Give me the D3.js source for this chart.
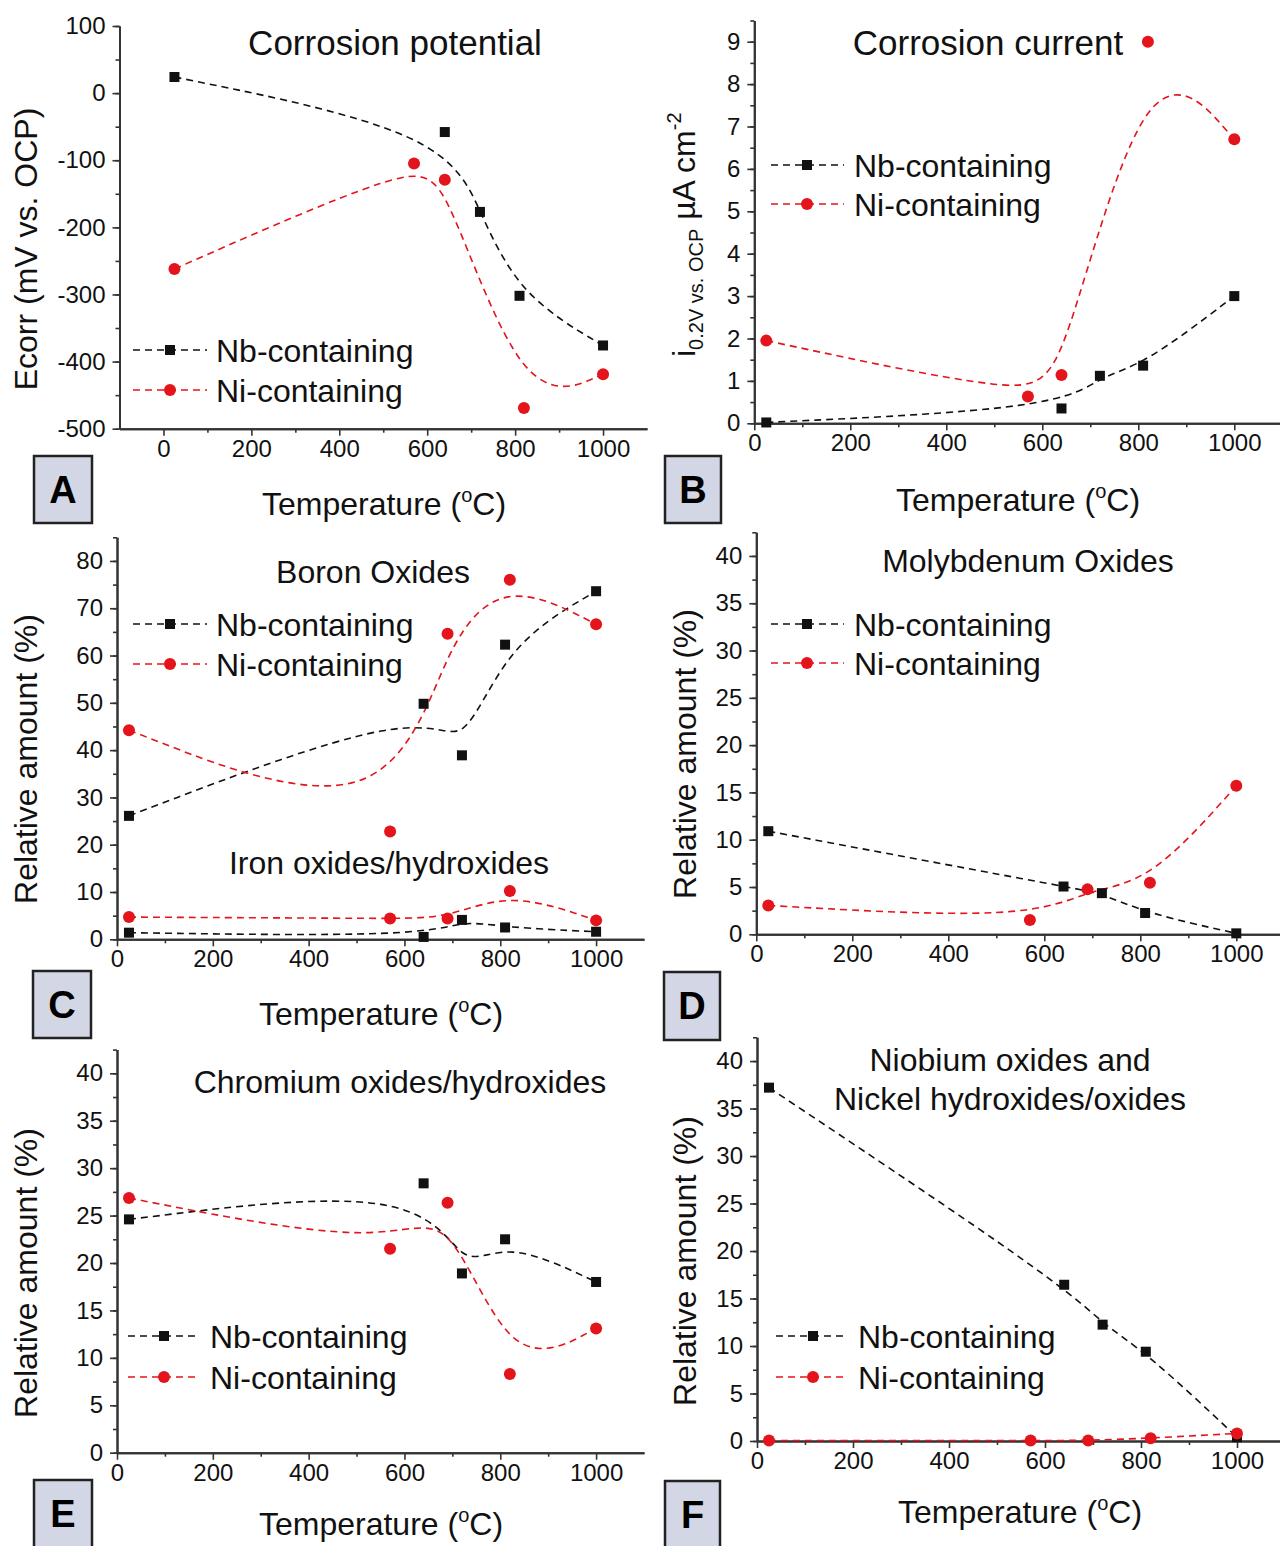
<!DOCTYPE html>
<html>
<head>
<meta charset="utf-8">
<script src="https://cdn.jsdelivr.net/npm/d3@7"></script>
<style>
    body { margin: 0; background: #fff; }
    svg { display: block; font-family: "Liberation Sans", Arial, sans-serif; }
</style>
</head>
<body>
<svg id="chart" width="1280" height="1546"></svg>
<script>
// temperatures (°C) of the samples
const tempNb = [25, 640, 720, 810, 1000];
const tempNiEchem = [25, 570, 640, 820, 1000];
const tempNiXps = [25, 570, 690, 820, 1000];

// A - corrosion potential (mV vs. OCP)
const ecorrNb = [24, -58, -177, -302, -376];
const ecorrNi = [-262, -105, -129, -469, -419];
// B - corrosion current (µA cm-2)
const currentNb = [0.02, 0.35, 1.12, 1.36, 3.0];
const currentNi = [1.95, 0.63, 1.14, 9.0, 6.7];
// C - boron oxides and iron oxides (%)
const boronNb = [26.1, 49.8, 38.9, 62.3, 73.6];
const boronNi = [44.2, 22.8, 64.6, 76.0, 66.6];
const ironNb = [1.4, 0.5, 4.1, 2.5, 1.6];
const ironNi = [4.7, 4.4, 4.4, 10.2, 4.0];
// D - molybdenum oxides (%)
const molyNb = [10.9, 5.05, 4.35, 2.25, 0.1];
const molyNi = [3.05, 1.5, 4.75, 5.45, 15.7];
// E - chromium oxides/hydroxides (%)
const chromNb = [24.6, 28.4, 18.9, 22.5, 18.0];
const chromNi = [26.85, 21.5, 26.35, 8.3, 13.1];
// F - niobium oxides / nickel hydroxides (%)
const niobNb = [37.2, 16.45, 12.25, 9.4, 0.4];
const niobNi = [0.05, 0.05, 0.05, 0.3, 0.8];

// tick labels
const xTicks = [0, 200, 400, 600, 800, 1000];
const ecorrTicks = [-500, -400, -300, -200, -100, 0, 100];
const currentTicks = [0, 1, 2, 3, 4, 5, 6, 7, 8, 9];
const boronTicks = [0, 10, 20, 30, 40, 50, 60, 70, 80];
const pctTicks = [0, 5, 10, 15, 20, 25, 30, 35, 40];

const black = "#111";
const red = "#e3141b";

const svg = d3.select("#chart");
svg.append("rect").attr("width", 1280).attr("height", 1546).attr("fill", "#fff");

const panels = [
    {
        id: "A", xDomain: [-100, 1100], yDomain: [-500, 100], yTicks: ecorrTicks, yMinor: 50,
        left: 119.5, right: 647, top: 26, bottom: 428.7,
        series: [[tempNb, ecorrNb, "nb"], [tempNiEchem, ecorrNi, "ni"]],
        titles: [["Corrosion potential", 395, 55, 35]],
        legend: { x1: 133, x2: 207, mx: 170, tx: 216, y: [350, 390] },
        yLabel: { text: "Ecorr (mV vs. OCP)", x: 37, y: 249 },
        xLabel: { x: 384, y: 515 },
        box: { x: 34, y: 456, w: 58, h: 67 }
    },
    {
        id: "B", xDomain: [0, 1100], yDomain: [0, 9.5], yTicks: currentTicks, yMinor: 0.5,
        left: 754.3, right: 1282.3, top: 20.5, bottom: 423.3,
        series: [[tempNb, currentNb, "nb"], [tempNiEchem, currentNi, "ni"]],
        titles: [["Corrosion current", 988, 55, 35]],
        legend: { x1: 771, x2: 844, mx: 807, tx: 854, y: [165, 204] },
        yLabel: null,
        xLabel: { x: 1018, y: 511 },
        box: { x: 665, y: 456, w: 56, h: 67 }
    },
    {
        id: "C", xDomain: [0, 1100], yDomain: [0, 85], yTicks: boronTicks, yMinor: 5,
        left: 117, right: 644, top: 537.3, bottom: 939.3,
        series: [[tempNb, boronNb, "nb"], [tempNiXps, boronNi, "ni"],
                 [tempNb, ironNb, "nb"], [tempNiXps, ironNi, "ni"]],
        titles: [["Boron Oxides", 373, 583, 32], ["Iron oxides/hydroxides", 389, 874, 32]],
        legend: { x1: 133, x2: 207, mx: 170, tx: 216, y: [624, 664] },
        yLabel: { text: "Relative amount (%)", x: 37, y: 759 },
        xLabel: { x: 381, y: 1025 },
        box: { x: 33, y: 971, w: 58, h: 67 }
    },
    {
        id: "D", xDomain: [0, 1100], yDomain: [0, 42.5], yTicks: pctTicks, yMinor: 2.5,
        left: 756.3, right: 1284.3, top: 532.3, bottom: 934.3,
        series: [[tempNb, molyNb, "nb"], [tempNiXps, molyNi, "ni"]],
        titles: [["Molybdenum Oxides", 1028, 572, 32]],
        legend: { x1: 771, x2: 844, mx: 807, tx: 854, y: [624, 663] },
        yLabel: { text: "Relative amount (%)", x: 696, y: 754 },
        xLabel: null,
        box: { x: 664, y: 972, w: 56, h: 68 }
    },
    {
        id: "E", xDomain: [0, 1100], yDomain: [0, 42.5], yTicks: pctTicks, yMinor: 2.5,
        left: 117, right: 644, top: 1049.6, bottom: 1452.7,
        series: [[tempNb, chromNb, "nb"], [tempNiXps, chromNi, "ni"]],
        titles: [["Chromium oxides/hydroxides", 400, 1093, 32]],
        legend: { x1: 128, x2: 200, mx: 164, tx: 210, y: [1336, 1377] },
        yLabel: { text: "Relative amount (%)", x: 37, y: 1273 },
        xLabel: { x: 381, y: 1535 },
        box: { x: 34, y: 1480, w: 58, h: 72 }
    },
    {
        id: "F", xDomain: [0, 1100], yDomain: [0, 42.5], yTicks: pctTicks, yMinor: 2.5,
        left: 757, right: 1285, top: 1037.3, bottom: 1441,
        series: [[tempNb, niobNb, "nb"], [tempNiXps, niobNi, "ni"]],
        titles: [["Niobium oxides and", 1010, 1071, 32], ["Nickel hydroxides/oxides", 1010, 1110, 32]],
        legend: { x1: 776, x2: 848, mx: 813, tx: 858, y: [1336, 1377] },
        yLabel: { text: "Relative amount (%)", x: 696, y: 1261 },
        xLabel: { x: 1020, y: 1523 },
        box: { x: 665, y: 1481, w: 55, h: 72 }
    }
];

function marker(g, kind, cx, cy) {
    if (kind === "nb") {
        g.append("rect")
            .attr("x", cx - 5).attr("y", cy - 5)
            .attr("width", 10).attr("height", 10)
            .attr("fill", black);
    } else {
        g.append("circle")
            .attr("cx", cx).attr("cy", cy).attr("r", 6)
            .attr("fill", red);
    }
}

function styleAxis(g) {
    g.selectAll(".domain").attr("stroke", "#333").attr("stroke-width", 2);
    g.selectAll(".tick line").attr("stroke", "#333").attr("stroke-width", 1.6);
    g.selectAll(".tick text").attr("fill", "#111").attr("font-family", "Liberation Sans, Arial, sans-serif");
}

function drawPanel(p) {
    const x = d3.scaleLinear().domain(p.xDomain).range([p.left, p.right]);
    const y = d3.scaleLinear().domain(p.yDomain).range([p.bottom, p.top]);
    const g = svg.append("g").attr("id", "panel_" + p.id);

    // minor ticks first
    const minorX = d3.range(100, 1000, 200);
    const minorY = d3.range(p.yDomain[0], p.yDomain[1] + 1e-6, p.yMinor);
    g.append("g")
        .attr("transform", `translate(0,${p.bottom})`)
        .call(d3.axisBottom(x).tickValues(minorX).tickSize(4).tickSizeOuter(0).tickFormat(""))
        .call(styleAxis);
    g.append("g")
        .attr("transform", `translate(${p.left},0)`)
        .call(d3.axisLeft(y).tickValues(minorY).tickSize(4).tickSizeOuter(0).tickFormat(""))
        .call(styleAxis);

    // major ticks with labels
    g.append("g")
        .attr("transform", `translate(0,${p.bottom})`)
        .call(d3.axisBottom(x).tickValues(xTicks).tickSize(7).tickSizeOuter(0).tickPadding(4).tickFormat(d => String(d)))
        .call(styleAxis)
        .selectAll(".tick text").attr("font-size", 24);
    g.append("g")
        .attr("transform", `translate(${p.left},0)`)
        .call(d3.axisLeft(y).tickValues(p.yTicks).tickSize(7).tickSizeOuter(0).tickPadding(7).tickFormat(d => String(d)))
        .call(styleAxis)
        .selectAll(".tick text").attr("font-size", 24);

    // smoothed dashed curves (B-spline), then markers
    const line = d3.line()
        .x(d => x(d[0]))
        .y(d => y(d[1]))
        .curve(d3.curveBasis);

    p.series.forEach(s => {
        const pts = s[0].map((t, i) => [t, s[1][i]]);
        g.append("path")
            .attr("d", line(pts))
            .attr("fill", "none")
            .attr("stroke", s[2] === "nb" ? black : red)
            .attr("stroke-width", 1.6)
            .attr("stroke-dasharray", "7,5");
    });
    ["nb", "ni"].forEach(kind => {
        p.series.filter(s => s[2] === kind).forEach(s => {
            s[0].forEach((t, i) => marker(g, kind, x(t), y(s[1][i])));
        });
    });

    // titles
    p.titles.forEach(t => {
        g.append("text")
            .attr("x", t[1]).attr("y", t[2])
            .attr("text-anchor", "middle")
            .attr("font-size", t[3])
            .attr("fill", "#111")
            .text(t[0]);
    });

    // legend
    const lg = p.legend;
    [["nb", "Nb-containing"], ["ni", "Ni-containing"]].forEach((row, i) => {
        const ly = lg.y[i];
        g.append("line")
            .attr("x1", lg.x1).attr("x2", lg.x2)
            .attr("y1", ly).attr("y2", ly)
            .attr("stroke", row[0] === "nb" ? black : red)
            .attr("stroke-width", 1.6)
            .attr("stroke-dasharray", "7,5");
        marker(g, row[0], lg.mx, ly);
        g.append("text")
            .attr("x", lg.tx).attr("y", ly + 11.5)
            .attr("font-size", 32)
            .attr("fill", "#111")
            .text(row[1]);
    });

    // y axis label
    if (p.yLabel) {
        g.append("text")
            .attr("transform", `translate(${p.yLabel.x},${p.yLabel.y}) rotate(-90)`)
            .attr("text-anchor", "middle")
            .attr("font-size", 32)
            .attr("fill", "#111")
            .text(p.yLabel.text);
    }

    // x axis label with superscript o
    if (p.xLabel) {
        const t = g.append("text")
            .attr("x", p.xLabel.x).attr("y", p.xLabel.y)
            .attr("text-anchor", "middle")
            .attr("font-size", 32)
            .attr("fill", "#111");
        t.append("tspan").text("Temperature (");
        t.append("tspan").attr("font-size", 20).attr("dy", -13).text("o");
        t.append("tspan").attr("dy", 13).text("C)");
    }

    // panel letter box
    g.append("rect")
        .attr("x", p.box.x).attr("y", p.box.y)
        .attr("width", p.box.w).attr("height", p.box.h)
        .attr("fill", "#d3d6e4")
        .attr("stroke", "#222")
        .attr("stroke-width", 2.5);
    g.append("text")
        .attr("x", p.box.x + p.box.w / 2).attr("y", p.box.y + 47)
        .attr("text-anchor", "middle")
        .attr("font-size", 38)
        .attr("font-weight", "bold")
        .attr("fill", "#000")
        .text(p.id);
}

panels.forEach(drawPanel);

// B: current axis label with sub- and superscript
const bl = svg.append("text")
    .attr("transform", "translate(695,357) rotate(-90)")
    .attr("font-size", 32)
    .attr("fill", "#111");
bl.append("tspan").text("i");
bl.append("tspan").attr("font-size", 20).attr("dy", 8).text("0.2V vs. OCP");
bl.append("tspan").attr("dy", -8).text(" \u00b5A cm");
bl.append("tspan").attr("font-size", 20).attr("dy", -14).text("-2");
</script>
</body>
</html>
